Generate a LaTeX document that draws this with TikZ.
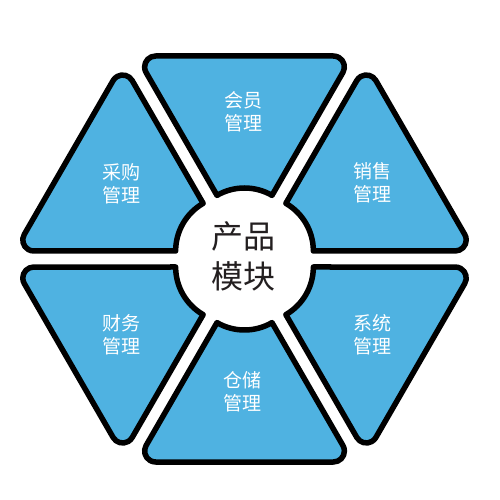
\documentclass[tikz,border=0pt]{standalone}
\usepackage{fontspec}
\setmainfont{Noto Sans CJK SC}
\definecolor{segblue}{HTML}{4FB2E1}
\definecolor{coretext}{HTML}{231F20}
\tikzset{
  segment/.style={draw=black, line width=5.5pt, fill=segblue, line join=round},
  seglabel/.style={text=white, align=center, font=\fontsize{19}{23.5}\selectfont},
  corelabel/.style={text=coretext, align=center, font=\fontsize{32}{40}\selectfont}
}
\begin{document}
\begin{tikzpicture}[x=1pt, y=1pt]
  \useasboundingbox (-244.5,-241) rectangle (255.5,259);

  % six segments round the core, outer corners rounded by hand
  \foreach \ang in {90,150,...,420} {
    \begin{scope}[shift={(\ang:16)}, rotate=\ang-90]
      \draw[segment] (0,187) -- (-88.9,187) arc[start angle=90, end angle=210, radius=11pt]
        -- (120:55pt) arc[start angle=120, end angle=60, radius=55pt]
        -- (98.4,170.5) arc[start angle=-30, end angle=90, radius=11pt] -- cycle;
    \end{scope}
  }

  \node[seglabel] (member) at (-1.5,147) {会员\\管理};
  \node[seglabel] (sales) at (127.5,76) {销售\\管理};
  \node[seglabel] (system) at (127.5,-76) {系统\\管理};
  \node[seglabel] (storage) at (-1.7,-132.7) {仓储\\管理};
  \node[seglabel] (finance) at (-122.8,-76) {财务\\管理};
  \node[seglabel] (purchase) at (-122.8,75) {采购\\管理};

  \node[corelabel] (core) at (-1.5,3) {产品\\模块};
\end{tikzpicture}
\end{document}
